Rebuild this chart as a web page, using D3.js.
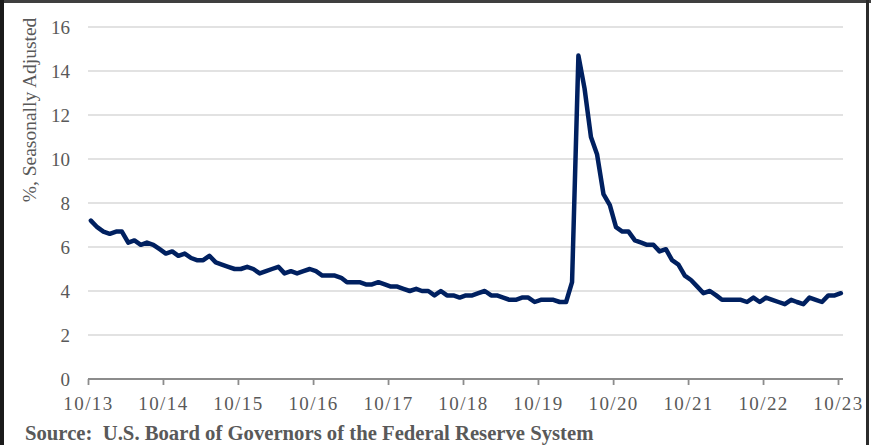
<!DOCTYPE html>
<html>
<head>
<meta charset="utf-8">
<script src="https://cdn.jsdelivr.net/npm/d3@7"></script>
<style>
  html, body { margin: 0; padding: 0; background: #fff; }
  svg { display: block; }
</style>
</head>
<body>
<svg id="chart" width="871" height="445"></svg>
<script>
// Monthly civilian unemployment rate, Oct 2013 – Oct 2023 (%, SA)
const firstMonth = [2013, 9]; // year, zero-based month (October)
const rate = [
  7.2, 6.9, 6.7,
  6.6, 6.7, 6.7, 6.2, 6.3, 6.1, 6.2, 6.1, 5.9, 5.7, 5.8, 5.6,
  5.7, 5.5, 5.4, 5.4, 5.6, 5.3, 5.2, 5.1, 5.0, 5.0, 5.1, 5.0,
  4.8, 4.9, 5.0, 5.1, 4.8, 4.9, 4.8, 4.9, 5.0, 4.9, 4.7, 4.7,
  4.7, 4.6, 4.4, 4.4, 4.4, 4.3, 4.3, 4.4, 4.3, 4.2, 4.2, 4.1,
  4.0, 4.1, 4.0, 4.0, 3.8, 4.0, 3.8, 3.8, 3.7, 3.8, 3.8, 3.9,
  4.0, 3.8, 3.8, 3.7, 3.6, 3.6, 3.7, 3.7, 3.5, 3.6, 3.6, 3.6,
  3.5, 3.5, 4.4, 14.7, 13.2, 11.0, 10.2, 8.4, 7.9, 6.9, 6.7, 6.7,
  6.3, 6.2, 6.1, 6.1, 5.8, 5.9, 5.4, 5.2, 4.7, 4.5, 4.2, 3.9,
  4.0, 3.8, 3.6, 3.6, 3.6, 3.6, 3.5, 3.7, 3.5, 3.7, 3.6, 3.5,
  3.4, 3.6, 3.5, 3.4, 3.7, 3.6, 3.5, 3.8, 3.8, 3.9
];
const xTickLabels = ["10/13", "10/14", "10/15", "10/16", "10/17", "10/18", "10/19", "10/20", "10/21", "10/22", "10/23"];
const yTicks = [0, 2, 4, 6, 8, 10, 12, 14, 16];

const series = rate.map((v, i) => ({
  date: new Date(firstMonth[0], firstMonth[1] + i, 15),
  value: v
}));
const tickDates = xTickLabels.map(s => new Date(2000 + +s.split("/")[1], +s.split("/")[0] - 1, 1));

const svg = d3.select("#chart");
const serif = "'Liberation Serif', 'DejaVu Serif', serif";
const plot = { left: 88, right: 843, top: 27, bottom: 379 };

const x = d3.scaleTime()
  .domain([tickDates[0], tickDates[tickDates.length - 1]])
  .range([88, 838]);
const y = d3.scaleLinear().domain([0, 16]).range([plot.bottom, plot.top]);

// Frame edges
svg.append("rect").attr("x", 0).attr("y", 0).attr("width", 871).attr("height", 3).attr("fill", "#3f3f3f");
svg.append("rect").attr("x", 0).attr("y", 0).attr("width", 4).attr("height", 445).attr("fill", "#1a1a1a");
svg.append("rect").attr("x", 866).attr("y", 0).attr("width", 3).attr("height", 445).attr("fill", "#2b2b2b");

// Horizontal gridlines
svg.append("g")
  .selectAll("line")
  .data(yTicks.filter(d => d > 0))
  .join("line")
  .attr("x1", plot.left).attr("x2", plot.right)
  .attr("y1", d => y(d)).attr("y2", d => y(d))
  .attr("stroke", "#d9d9d9").attr("stroke-width", 1.6);

// Y axis labels
const yAxis = svg.append("g")
  .attr("transform", `translate(${plot.left},0)`)
  .call(d3.axisLeft(y).tickValues(yTicks).tickSize(0).tickPadding(18).tickFormat(d3.format("d")));
yAxis.select(".domain").remove();
yAxis.selectAll("text")
  .attr("font-family", serif).attr("font-size", 19).attr("fill", "#595959");

// X axis
const xAxis = svg.append("g")
  .attr("transform", `translate(0,${plot.bottom})`)
  .call(d3.axisBottom(x).tickValues(tickDates).tickSize(6).tickPadding(12)
    .tickFormat((d, i) => xTickLabels[i]));
xAxis.select(".domain")
  .attr("d", `M${plot.left},0H${plot.right}`)
  .attr("stroke", "#8c8c8c").attr("stroke-width", 1.8);
xAxis.selectAll(".tick line").attr("stroke", "#8c8c8c").attr("stroke-width", 1.8);
xAxis.selectAll(".tick text")
  .attr("font-family", serif).attr("font-size", 19).attr("fill", "#595959")
  .attr("letter-spacing", 1.4);

// Y axis title
svg.append("text")
  .attr("transform", "translate(36,110) rotate(-90)")
  .attr("text-anchor", "middle")
  .attr("font-family", serif).attr("font-size", 19.5).attr("fill", "#595959")
  .text("%, Seasonally Adjusted");

// Series line
svg.append("path")
  .datum(series)
  .attr("fill", "none")
  .attr("stroke", "#002060")
  .attr("stroke-width", 4.5)
  .attr("stroke-linejoin", "round")
  .attr("stroke-linecap", "round")
  .attr("d", d3.line().x(d => x(d.date)).y(d => y(d.value)));

// Source note
svg.append("text")
  .attr("x", 25).attr("y", 440)
  .attr("font-family", serif).attr("font-size", 20.7).attr("font-weight", "bold")
  .attr("fill", "#595959")
  .attr("xml:space", "preserve")
  .style("white-space", "pre")
  .text("Source:  U.S. Board of Governors of the Federal Reserve System");
</script>
</body>
</html>
